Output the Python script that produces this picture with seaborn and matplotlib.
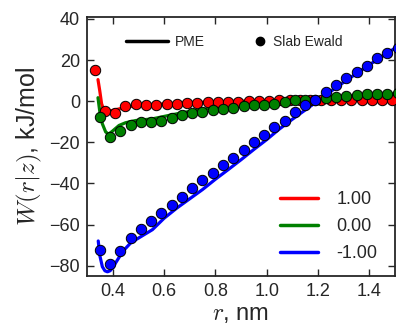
import numpy as np
import pandas as pd
import seaborn as sns
import matplotlib.pyplot as plt
from matplotlib.lines import Line2D

# slab Ewald points (dots)
red_dot_r = [0.33, 0.37, 0.41, 0.45, 0.49, 0.53, 0.57, 0.61, 0.65, 0.69, 0.73, 0.77, 0.81, 0.85, 0.89,
             0.93, 0.97, 1.01, 1.05, 1.09, 1.13, 1.17, 1.21, 1.25, 1.29, 1.33, 1.37, 1.41, 1.45, 1.49]
red_dot_w = [15.4, -4.8, -5.6, -2.5, -1.2, -1.7, -1.7, -1.5, -1.2, -0.8, -0.7, -0.6, -0.4, -0.3, -0.2,
             0.0, 0.2, 0.3, 0.4, 0.5, 0.5, 0.6, 0.5, 0.6, 0.6, 0.6, 0.6, 0.7, 0.6, 0.6]

gb_dot_r = [0.35, 0.39, 0.43, 0.47, 0.51, 0.55, 0.59, 0.63, 0.67, 0.71, 0.75, 0.79, 0.83, 0.87, 0.91,
            0.95, 0.99, 1.03, 1.07, 1.11, 1.15, 1.19, 1.23, 1.27, 1.31, 1.35, 1.39, 1.43, 1.47, 1.51]
green_dot_w = [-7.8, -17.6, -14.3, -11.4, -10.2, -9.9, -9.4, -8.3, -6.8, -5.8, -5.3, -4.5, -4.0, -3.2, -2.4,
               -2.0, -1.7, -1.2, -0.4, 0.7, 0.7, 0.7, 1.7, 2.0, 2.4, 2.9, 3.4, 3.7, 3.7, 3.8]
blue_dot_w = [-72.5, -79.0, -73.0, -66.7, -62.1, -58.3, -54.5, -50.5, -46.5, -42.3, -38.2, -34.7, -31.0, -27.4, -23.8,
              -20.0, -16.4, -12.7, -9.4, -5.3, -2.0, 0.7, 4.5, 7.8, 11.1, 14.3, 17.3, 20.8, 23.6, 26.1]

# PME curves (lines)
red_line_r = [0.343, 0.35, 0.357, 0.366, 0.38, 0.40, 0.45, 0.50, 0.60, 0.70, 0.80, 0.90, 1.00, 1.10, 1.20, 1.30, 1.40, 1.50]
red_line_w = [10.5, 5.0, -1.2, -4.5, -5.0, -4.5, -3.0, -2.0, -1.3, -0.8, -0.3, 0.0, 0.3, 0.5, 0.6, 0.6, 0.6, 0.6]

green_line_r = [0.343, 0.35, 0.36, 0.373, 0.385, 0.40, 0.425, 0.45, 0.49, 0.555, 0.62, 0.685, 0.75, 0.85, 0.95,
                1.05, 1.15, 1.25, 1.35, 1.45, 1.50]
green_line_w = [1.7, -5.0, -11.0, -15.0, -16.0, -14.5, -11.8, -10.5, -9.4, -8.6, -6.9, -5.3, -4.0, -2.5, -1.2,
                0.0, 1.0, 1.8, 2.6, 3.2, 3.5]

blue_line_r = [0.344, 0.35, 0.36, 0.37, 0.38, 0.39, 0.40, 0.42, 0.44, 0.47, 0.49, 0.555, 0.60, 0.65, 0.70, 0.75,
               0.80, 0.85, 0.90, 0.95, 1.00, 1.05, 1.10, 1.15, 1.20, 1.25, 1.30, 1.35, 1.40, 1.45, 1.50]
blue_line_w = [-68.0, -75.0, -80.5, -82.5, -83.0, -82.5, -81.0, -77.0, -73.0, -69.0, -67.4, -62.5, -57.0, -52.0, -47.5, -43.0,
               -38.0, -33.3, -28.5, -23.5, -18.7, -13.5, -8.8, -4.3, 0.2, 4.8, 9.2, 13.5, 17.7, 21.8, 25.8]

series_labels = ['1.00', '0.00', '-1.00']
series_colors = ['#ff0000', '#008000', '#0000ff']

sns.set_style('ticks')
plt.rcParams['font.family'] = ['Liberation Sans', 'DejaVu Sans']
plt.rcParams['mathtext.fontset'] = 'cm'

fig = plt.figure(figsize=(3.97, 3.25), dpi=100)
ax = fig.add_axes([0.219, 0.151, 0.776, 0.797])

lines = [(red_line_r, red_line_w), (green_line_r, green_line_w), (blue_line_r, blue_line_w)]
dots = [(red_dot_r, red_dot_w), (gb_dot_r, green_dot_w), (gb_dot_r, blue_dot_w)]

for (lr, lw), col in zip(lines, series_colors):
    sns.lineplot(x=lr, y=lw, color=col, linewidth=2.3, ax=ax, zorder=2)
for (dr, dw), col in zip(dots, series_colors):
    sns.scatterplot(x=dr, y=dw, color=col, s=56, edgecolor='black', linewidth=0.7, ax=ax, zorder=3)

ax.set_xlim(0.3, 1.5)
ax.set_ylim(-85, 41)
ax.set_xticks([0.4, 0.6, 0.8, 1.0, 1.2, 1.4])
ax.set_yticks([-80, -60, -40, -20, 0, 20, 40])
ax.tick_params(direction='in', top=True, right=True, length=5, width=1, labelsize=13, pad=5)
for sp in ax.spines.values():
    sp.set_linewidth(1.3)

ax.set_xlabel(r'$r$, nm', fontsize=17, labelpad=2)
ax.set_ylabel(r'$W(r|z)$, kJ/mol', fontsize=18, labelpad=4)

# method legends at top
leg1 = ax.legend(handles=[Line2D([], [], color='black', lw=2.5)], labels=['PME'],
                 loc='center', bbox_to_anchor=(0.255, 0.905), frameon=False, fontsize=10,
                 handlelength=3, handletextpad=0.5)
ax.add_artist(leg1)
leg2 = ax.legend(handles=[Line2D([], [], color='black', marker='o', ls='none', markersize=6)], labels=['Slab Ewald'],
                 loc='center', bbox_to_anchor=(0.685, 0.905), frameon=False, fontsize=10,
                 handlelength=1, handletextpad=0.4)
ax.add_artist(leg2)

# charge legend
handles = [Line2D([], [], color=c, lw=2.5) for c in series_colors]
ax.legend(handles=handles, labels=series_labels, loc='lower right', bbox_to_anchor=(0.995, -0.01),
          frameon=False, fontsize=13, handlelength=2.1, handletextpad=1.0, labelspacing=0.55)

fig.savefig('out.png', dpi=100)
